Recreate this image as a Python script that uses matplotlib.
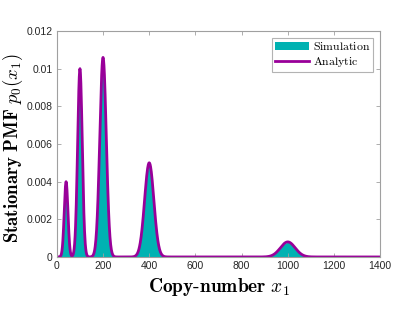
import numpy as np
import matplotlib
matplotlib.use('Agg')
import matplotlib.pyplot as plt

# picos: centro, altura y anchura (desv. tipica)
centros = [40, 100, 200, 400, 1000]
alturas_analitica = [0.0040, 0.0100, 0.0106, 0.0050, 0.0008]
alturas_simulacion = [0.0039, 0.0101, 0.0104, 0.0049, 0.00077]
anchuras = [8, 10, 14, 20, 32]

x_ticks = [0, 200, 400, 600, 800, 1000, 1200, 1400]
y_ticks = [0, 0.002, 0.004, 0.006, 0.008, 0.01, 0.012]
y_ticklabels = ['0', '0.002', '0.004', '0.006', '0.008', '0.01', '0.012']

x = np.arange(0, 1401)


def mezcla(alturas):
    p = np.zeros_like(x, dtype=float)
    for c, h, s in zip(centros, alturas, anchuras):
        p += h * np.exp(-0.5 * ((x - c) / s) ** 2)
    return p


p_sim = mezcla(alturas_simulacion)
p_ana = mezcla(alturas_analitica)

plt.rcParams['mathtext.fontset'] = 'cm'
plt.rcParams['font.family'] = ['Liberation Sans', 'DejaVu Sans']

fig = plt.figure(figsize=(4.15, 3.2), dpi=100)
ax = fig.add_axes([0.137, 0.197, 0.779, 0.706])

ax.fill_between(x, 0, p_sim, color='#00B2B2', linewidth=0, label=r'$\mathrm{Simulation}$')
ax.plot(x, p_ana, color='#990099', linewidth=2, label=r'$\mathrm{Analytic}$')

ax.set_xlim(0, 1400)
ax.set_ylim(0, 0.012)
ax.set_xticks(x_ticks)
ax.set_xticklabels([str(t) for t in x_ticks])
ax.set_yticks(y_ticks)
ax.set_yticklabels(y_ticklabels)

ax.tick_params(direction='in', top=True, right=True, length=3, width=0.6,
               colors='#A0A0A0', labelcolor='#262626', labelsize=7.5, pad=3)
for sp in ax.spines.values():
    sp.set_color('#A0A0A0')
    sp.set_linewidth(0.8)

ax.set_xlabel(r'$\mathbf{Copy\text{-}number}\ x_1$', fontsize=14)
ax.set_ylabel(r'$\mathbf{Stationary\ PMF}\ p_0(x_1)$', fontsize=13.5)
ax.xaxis.set_label_coords(0.5, -0.085)
ax.yaxis.set_label_coords(-0.097, 0.48)

leg = ax.legend(loc='upper right', fontsize=8.5, frameon=True, fancybox=False,
                handlelength=2.9, borderpad=0.25, labelspacing=0.15,
                handletextpad=0.3, borderaxespad=0.6)
leg.get_frame().set_edgecolor('#A0A0A0')
leg.get_frame().set_linewidth(0.8)

fig.savefig('out.png', dpi=100)
